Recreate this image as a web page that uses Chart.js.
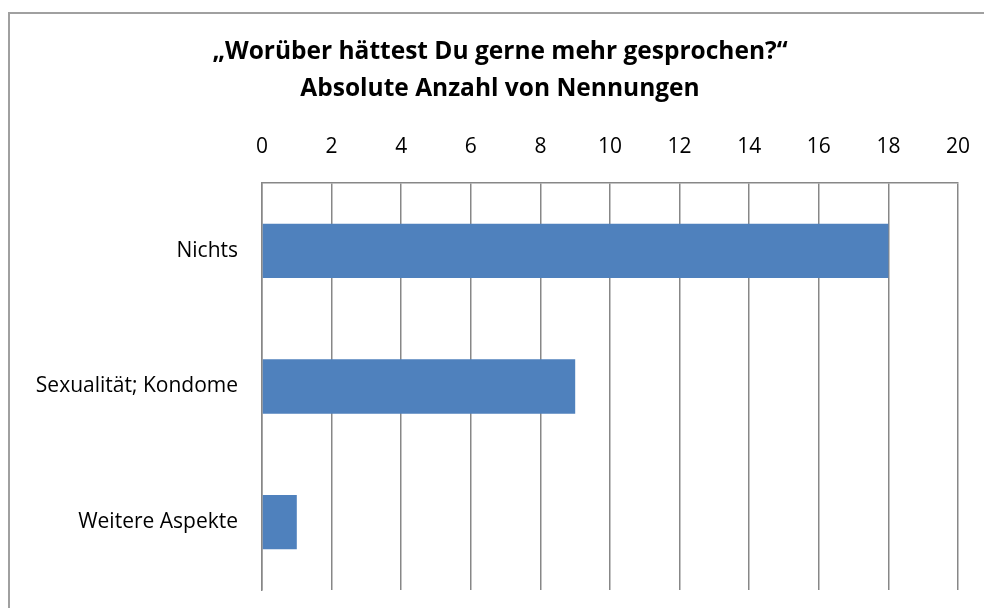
<!DOCTYPE html>
<html lang="de">
<head>
  <meta charset="UTF-8" />
  <title>Worüber hättest Du gerne mehr gesprochen?</title>
  <script src="https://cdn.jsdelivr.net/npm/chart.js"></script>
  <style>
    html, body { margin: 0; padding: 0; background: #fff; overflow: hidden; }
    .frame {
      position: absolute; left: 8px; top: 12px; width: 1100px; height: 700px;
      border-left: 2px solid #a0a0a0; border-top: 2px solid #a0a0a0;
    }
    #wrap { position: absolute; left: 0; top: 0; width: 984px; height: 608px; }
  </style>
</head>
<body>
  <div class="frame"></div>
  <div id="wrap"><canvas id="mentionsChart"></canvas></div>

  <script>
    const categories = ['Nichts', 'Sexualität; Kondome', 'Weitere Aspekte'];
    const mentions = [18, 9, 1];
    const titleLines = ['„Worüber hättest Du gerne mehr gesprochen?“', 'Absolute Anzahl von Nennungen'];
    const tickMin = 0, tickMax = 20, tickStep = 2;

    const FONT = "'Open Sans', sans-serif";

    new Chart(document.getElementById('mentionsChart'), {
      type: 'bar',
      data: {
        labels: categories,
        datasets: [{
          data: mentions,
          backgroundColor: '#4f81bd',
          borderWidth: 0,
          barPercentage: 0.4,
          categoryPercentage: 1
        }]
      },
      options: {
        indexAxis: 'y',
        responsive: true,
        maintainAspectRatio: false,
        animation: false,
        layout: { padding: { left: 42, right: 26, top: 0, bottom: 18 } },
        scales: {
          x: {
            position: 'top',
            min: tickMin,
            max: tickMax,
            ticks: { stepSize: tickStep, padding: 23, color: '#000', font: { family: FONT, size: 21 } },
            grid: { color: '#878787', lineWidth: 1.5, drawTicks: false },
            border: { color: '#878787', width: 1.5 },
            // fixed height, and no extra edge padding for the outer labels
            afterFit: s => { s.height = 75; s.paddingLeft = 0; s.paddingRight = 0; }
          },
          y: {
            z: 1,
            ticks: { padding: 24, color: '#000', font: { family: FONT, size: 21 } },
            grid: { display: false, drawTicks: false },
            border: { color: '#878787', width: 1.5 },
            afterFit: s => {
              s.width = 220;
              s.paddingTop = 0;
              s.paddingBottom = 0;
              // long label may run past the scale's left edge, don't clip it
              s._computeLabelArea = () => null;
            }
          }
        },
        plugins: {
          legend: { display: false },
          tooltip: { enabled: false },
          title: {
            display: true,
            text: titleLines,
            color: '#000',
            font: { family: FONT, size: 24.5, weight: 'bold', lineHeight: 37 / 24.5 },
            padding: { top: 34, bottom: 0 }
          }
        }
      }
    });
  </script>
</body>
</html>
